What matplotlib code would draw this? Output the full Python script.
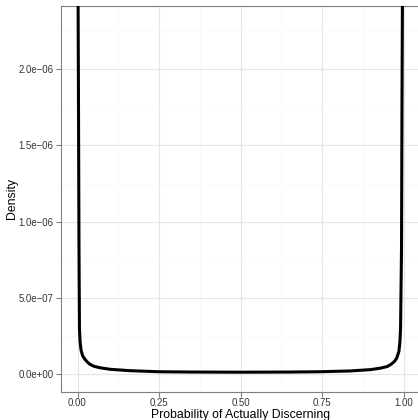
import matplotlib
matplotlib.use("Agg")
import matplotlib.pyplot as plt
from matplotlib.ticker import FixedLocator

# curve (probability, density)
prob = [0.0003, 0.0015, 0.003, 0.0046, 0.006, 0.008, 0.011, 0.016, 0.023, 0.030,
        0.038, 0.050, 0.069, 0.10, 0.16, 0.25, 0.35, 0.50, 0.65, 0.744,
        0.836, 0.90, 0.928, 0.950, 0.962, 0.972, 0.979, 0.986, 0.989, 0.991,
        0.9939, 0.9954, 0.997, 0.9985]
dens = [9.0e-6, 2.6e-6, 1.79e-6, 0.82e-6, 0.30e-6, 0.21e-6, 0.156e-6, 0.120e-6, 0.097e-6, 0.080e-6,
        0.065e-6, 0.052e-6, 0.042e-6, 0.032e-6, 0.023e-6, 0.016e-6, 0.014e-6, 0.013e-6, 0.014e-6, 0.016e-6,
        0.021e-6, 0.030e-6, 0.039e-6, 0.050e-6, 0.065e-6, 0.083e-6, 0.104e-6, 0.150e-6, 0.21e-6, 0.30e-6,
        0.82e-6, 1.79e-6, 2.6e-6, 9.0e-6]

x_ticks = [0.0, 0.25, 0.5, 0.75, 1.0]
x_labels = ["0.00", "0.25", "0.50", "0.75", "1.00"]
y_ticks = [0.0, 5e-7, 1e-6, 1.5e-6, 2e-6]
y_labels = ["0.0e+00", "5.0e\u221207", "1.0e\u221206", "1.5e\u221206", "2.0e\u221206"]

plt.rcParams["font.family"] = ["Liberation Sans", "DejaVu Sans"]

W, H = 418, 420
fig = plt.figure(figsize=(W / 100, H / 100), dpi=100)
left, right, top, bottom = 61.2, 419.8, 6.0, 391.7
ax = fig.add_axes([left / W, (H - bottom) / H, (right - left) / W, (bottom - top) / H])

ax.plot(prob, dens, color="black", lw=2.2, solid_capstyle="butt", zorder=3)

ax.set_xlim(-0.05, 1.05)
ax.set_ylim(-1.15e-7, 2.415e-6)

ax.xaxis.set_major_locator(FixedLocator(x_ticks))
ax.yaxis.set_major_locator(FixedLocator(y_ticks))
ax.set_xticklabels(x_labels)
ax.set_yticklabels(y_labels)
ax.xaxis.set_minor_locator(FixedLocator([0.125, 0.375, 0.625, 0.875]))
ax.yaxis.set_minor_locator(FixedLocator([2.5e-7, 7.5e-7, 1.25e-6, 1.75e-6, 2.25e-6]))

ax.grid(which="major", color="#e5e5e5", lw=0.8, zorder=0)
ax.grid(which="minor", color="#fafafa", lw=0.6, zorder=0)
ax.set_axisbelow(True)

for s in ax.spines.values():
    s.set_color("#7f7f7f")
    s.set_linewidth(0.8)

ax.tick_params(which="major", length=3.5, width=0.8, color="#7f7f7f",
               labelsize=6.9, labelcolor="#333333", pad=2)
ax.tick_params(axis="x", pad=1.2)
ax.tick_params(which="minor", length=0)

ax.set_xlabel("Probability of Actually Discerning", fontsize=8.8, labelpad=0.6)
ax.set_ylabel("Density", fontsize=8.8, labelpad=0)

fig.savefig("out.png", dpi=100)
